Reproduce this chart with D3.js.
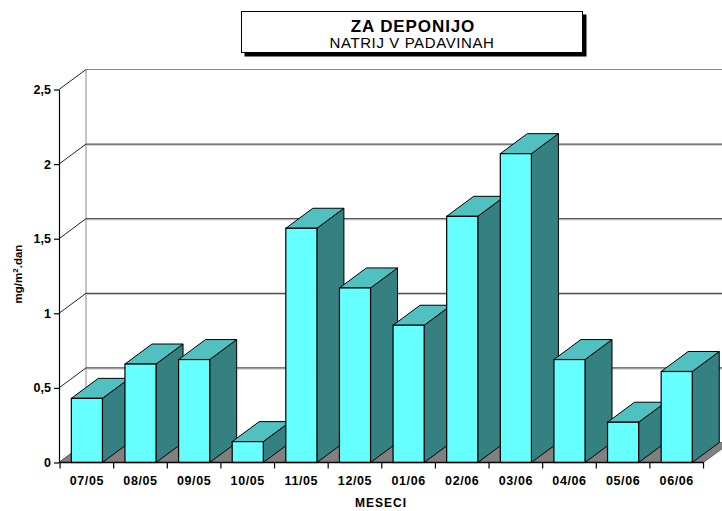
<!DOCTYPE html>
<html>
<head>
<meta charset="utf-8">
<script src="https://cdn.jsdelivr.net/npm/d3@7"></script>
<style>
  html, body { margin: 0; padding: 0; background: #fff; }
  svg { display: block; font-family: Arial, "Liberation Sans", sans-serif; }
</style>
</head>
<body>
<svg id="chart" width="722" height="511"></svg>
<script>
const categories = ["07/05","08/05","09/05","10/05","11/05","12/05","01/06","02/06","03/06","04/06","05/06","06/06"];
const values = [0.43, 0.66, 0.69, 0.14, 1.57, 1.17, 0.92, 1.65, 2.07, 0.69, 0.27, 0.61];
const yTicks = [0, 0.5, 1, 1.5, 2, 2.5];
const yTickLabels = ["0", "0,5", "1", "1,5", "2", "2,5"];
const titleMain = "ZA DEPONIJO";
const titleSub = "NATRIJ V PADAVINAH";
const xTitle = "MESECI";

const svg = d3.select("#chart");
const W = 722;
const DX = 27, DY = -20;

const x = d3.scaleBand().domain(categories).range([59, 704.6])
  .paddingInner(0.42).paddingOuter(0.23);
const y = d3.scaleLinear().domain([0, 2.5]).range([462.5, 89.5]);
const step = x.step();
const bw = x.bandwidth();
const boundary = c => x(c) - step * x.paddingInner() / 2;

// Back wall
const back = svg.append("g");
back.append("line").attr("x1", 59 + DX).attr("x2", W).attr("y1", y(2.5) + DY).attr("y2", y(2.5) + DY)
  .attr("stroke", "#8a8a8a").attr("stroke-width", 1.2);
back.append("line").attr("x1", 59 + DX).attr("x2", 59 + DX).attr("y1", y(2.5) + DY).attr("y2", y(0) + DY)
  .attr("stroke", "#8a8a8a").attr("stroke-width", 1);
yTicks.filter(t => t > 0 && t < 2.5).forEach(t => {
  back.append("line").attr("x1", 59 + DX).attr("x2", W).attr("y1", y(t) + DY + 1.2).attr("y2", y(t) + DY + 1.2)
    .attr("stroke", "#c4c4c4").attr("stroke-width", 1);
  back.append("line").attr("x1", 59 + DX).attr("x2", W).attr("y1", y(t) + DY).attr("y2", y(t) + DY)
    .attr("stroke", "#2a2a2a").attr("stroke-width", 1);
});
// Left wall diagonals
yTicks.forEach(t => {
  back.append("line").attr("x1", 59).attr("y1", y(t)).attr("x2", 59 + DX).attr("y2", y(t) + DY)
    .attr("stroke", "#222").attr("stroke-width", 1);
});

// Floor
const x0 = 59, x1 = boundary(categories[categories.length - 1]) + step;
svg.append("polygon")
  .attr("points", [[x0, y(0)], [x1, y(0)], [x1 + DX, y(0) + DY], [x0 + DX, y(0) + DY]].map(p => p.join(",")).join(" "))
  .attr("fill", "#808080").attr("stroke", "#555").attr("stroke-width", 0.8);

// Bars
const bars = svg.append("g");
categories.forEach((c, i) => {
  const v = values[i];
  const xl = x(c), xr = x(c) + bw, yt = y(v), yb = y(0);
  const g = bars.append("g");
  g.append("polygon")
    .attr("points", [[xr, yb], [xr, yt], [xr + DX, yt + DY], [xr + DX, yb + DY]].map(p => p.join(",")).join(" "))
    .attr("fill", "#358080").attr("stroke", "#000").attr("stroke-width", 1).attr("stroke-linejoin", "round");
  g.append("polygon")
    .attr("points", [[xl, yt], [xr, yt], [xr + DX, yt + DY], [xl + DX, yt + DY]].map(p => p.join(",")).join(" "))
    .attr("fill", "#50C0C0").attr("stroke", "#000").attr("stroke-width", 1).attr("stroke-linejoin", "round");
  g.append("rect").attr("x", xl).attr("y", yt).attr("width", bw).attr("height", yb - yt)
    .attr("fill", "#66FFFF").attr("stroke", "#000").attr("stroke-width", 1.2);
});

// Y axis
const yAxis = d3.axisLeft(y).tickValues(yTicks).tickSize(5).tickSizeOuter(0)
  .tickFormat((d, i) => yTickLabels[i]);
const ya = svg.append("g").attr("transform", "translate(59,0)").call(yAxis);
ya.select(".domain").attr("stroke", "#000").attr("stroke-width", 1.2);
ya.selectAll(".tick line").attr("stroke", "#000").attr("stroke-width", 1.2);
ya.selectAll(".tick text").attr("x", -8).attr("font-size", 12.5).attr("font-weight", "bold")
  .attr("font-family", "Arial, 'Liberation Sans', sans-serif").attr("fill", "#000");

// X axis
const xa = svg.append("g");
xa.append("line").attr("x1", x0).attr("x2", x1).attr("y1", y(0)).attr("y2", y(0))
  .attr("stroke", "#000").attr("stroke-width", 1.5);
categories.concat(["__end"]).forEach((c, i) => {
  const bx = i < categories.length ? boundary(c) : x1;
  xa.append("line").attr("x1", bx).attr("x2", bx).attr("y1", y(0)).attr("y2", y(0) + 6)
    .attr("stroke", "#000").attr("stroke-width", 1.2);
});
const xAxis = d3.axisBottom(x).tickSize(0).tickPadding(0);
const xlab = svg.append("g").attr("transform", `translate(0,${y(0)})`).call(xAxis);
xlab.select(".domain").remove();
xlab.selectAll(".tick text").attr("y", 14).attr("dy", "0.71em").attr("font-size", 12.5).attr("font-weight", "bold")
  .attr("font-family", "Arial, 'Liberation Sans', sans-serif").attr("fill", "#000")
  .attr("letter-spacing", 0.6);

svg.append("text").attr("x", 381).attr("y", 507).attr("text-anchor", "middle")
  .attr("font-size", 12).attr("font-weight", "bold").attr("letter-spacing", 1).text(xTitle);

// Y axis title
const ytl = svg.append("text").attr("transform", "translate(22,274) rotate(-90)")
  .attr("text-anchor", "middle").attr("font-size", 11.5).attr("font-weight", "bold");
ytl.append("tspan").text("mg/m");
ytl.append("tspan").attr("font-size", 8).attr("dy", -4).text("2");
ytl.append("tspan").attr("dy", 4).text(".dan");

// Title box
svg.append("rect").attr("x", 244.5).attr("y", 14.5).attr("width", 342).attr("height", 42).attr("fill", "#000");
svg.append("rect").attr("x", 241.5).attr("y", 11.5).attr("width", 341).attr("height", 41)
  .attr("fill", "#fff").attr("stroke", "#000").attr("stroke-width", 1);
svg.append("text").attr("x", 413).attr("y", 31.5).attr("text-anchor", "middle")
  .attr("font-size", 17).attr("font-weight", "bold").attr("letter-spacing", 0.9).text(titleMain);
svg.append("text").attr("x", 412).attr("y", 48).attr("text-anchor", "middle")
  .attr("font-size", 15).attr("letter-spacing", 0.6).text(titleSub);
</script>
</body>
</html>
